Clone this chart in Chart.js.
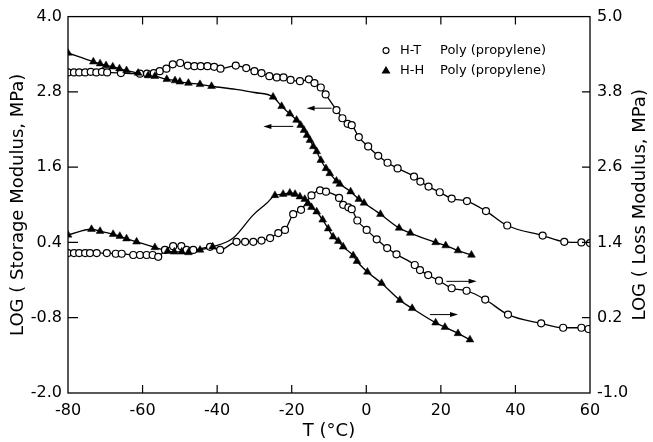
<!DOCTYPE html>
<html>
<head>
<meta charset="utf-8">
<script src="https://cdn.jsdelivr.net/npm/chart.js@4/dist/chart.umd.min.js"></script>
<style>
  html,body{margin:0;padding:0;background:#fff;}
</style>
</head>
<body>
<canvas id="chart" width="653" height="442"></canvas>
<script>
// Achsen-Ticks
const xTickVals = [-80,-60,-40,-20,0,20,40,60];
const storageTicks = [-2.0,-0.8,0.4,1.6,2.8,4.0];
const lossTicks = [-1.0,0.2,1.4,2.6,3.8,5.0];

// H-T Poly(propylene), Speichermodul (linke Achse)
const htStorageT = [-80,-78.4,-77,-75.4,-73.9,-72.4,-70.9,-69.5,-65.8,-60.7,-58.8,-57,-55.4,-53.6,-51.9,-49.9,-47.9,-46.1,-44.4,-42.6,-40.8,-39.1,-35,-32.2,-30,-28.1,-26,-24,-22.2,-20.3,-17.8,-15.4,-13.9,-12.2,-10.9,-8,-6.4,-5,-3.9,-2,0.5,3.2,5.7,8.4,12.8,14.5,16.7,19.7,22.9,27,32.1,37.8,47.3,53.1,57.7,60];
const htStorageLog = [3.11,3.11,3.11,3.11,3.12,3.11,3.12,3.11,3.10,3.09,3.09,3.10,3.13,3.17,3.24,3.26,3.22,3.21,3.21,3.21,3.20,3.17,3.22,3.18,3.13,3.10,3.05,3.03,3.03,2.99,2.97,3.00,2.94,2.87,2.76,2.51,2.38,2.29,2.27,2.08,1.93,1.78,1.67,1.58,1.45,1.37,1.29,1.20,1.10,1.06,0.90,0.67,0.51,0.41,0.40,0.39];

// H-H Poly(propylene), Speichermodul (linke Achse)
const hhStorageT = [-80,-73.2,-71.4,-69.8,-68,-66.2,-64.3,-61.2,-58.5,-56.7,-53.5,-51.3,-50,-47.7,-44.6,-41.5,-25,-22.7,-20.5,-18.7,-17.6,-16.7,-15.9,-15.1,-14.2,-13.3,-12.2,-10.8,-9.8,-8,-7.1,-4.2,-2,-0.6,3.8,8.8,11.8,18.6,21.3,24.6,28.2];
const hhStorageLog = [3.42,3.28,3.25,3.22,3.20,3.17,3.14,3.10,3.06,3.05,3.00,2.98,2.96,2.94,2.92,2.89,2.72,2.57,2.45,2.35,2.27,2.19,2.11,2.03,1.93,1.85,1.71,1.58,1.50,1.38,1.33,1.21,1.09,1.03,0.85,0.63,0.55,0.40,0.35,0.27,0.20];
// Kurve ohne Symbole
const hhStorageCurveT = [-35,-30];
const hhStorageCurveLog = [2.84,2.79];

// H-T Poly(propylene), Verlustmodul (rechte Achse)
const htLossT = [-80,-78.4,-77,-75.4,-74.1,-72.3,-69.6,-67.2,-65.6,-62.5,-60.7,-58.9,-57.3,-55.8,-54,-51.8,-49.6,-48.2,-46.4,-41.9,-39.2,-34.8,-32.5,-30.3,-28.1,-25.8,-23.6,-21.8,-19.6,-17.5,-14.7,-12.4,-10.8,-7.3,-6.2,-4.8,-3.9,-2.4,0.1,2.8,5.6,8.1,13,14.4,16.6,19.5,22.9,26.9,31.9,38,46.9,52.8,57.7,59.6];
const htLossLog = [1.23,1.23,1.23,1.23,1.23,1.23,1.23,1.22,1.22,1.20,1.20,1.20,1.20,1.17,1.28,1.34,1.34,1.28,1.28,1.33,1.28,1.41,1.41,1.41,1.43,1.47,1.55,1.60,1.85,1.92,2.15,2.23,2.21,2.11,2.00,1.96,1.93,1.75,1.60,1.45,1.31,1.21,1.04,0.96,0.88,0.79,0.67,0.63,0.49,0.25,0.11,0.04,0.04,0.02];

// H-H Poly(propylene), Verlustmodul (rechte Achse)
const hhLossT = [-80,-73.7,-71.4,-67.9,-66.1,-64.3,-61.6,-56.7,-53.3,-51.5,-49.5,-47.7,-44.6,-41.2,-24.5,-22.3,-20.5,-19.1,-17.8,-16.5,-15.6,-14.7,-13.3,-11.7,-10.2,-8.9,-7.5,-6.2,-3.5,-2.5,0.3,4.1,9,12.3,18.6,21.1,24.6,27.8];
const hhLossLog = [1.52,1.61,1.58,1.53,1.50,1.46,1.41,1.32,1.26,1.25,1.25,1.24,1.28,1.33,2.15,2.17,2.19,2.17,2.13,2.09,2.02,1.96,1.89,1.76,1.62,1.49,1.42,1.33,1.19,1.10,0.93,0.75,0.48,0.35,0.12,0.05,-0.05,-0.15];
const hhLossCurveT = [-35.7,-30.3,-26.8];
const hhLossCurveLog = [1.47,1.84,2.02];

// Pfeile (Zuordnung Kurve -> Achse)
const arrowFromT = [-9.3,-19.6,21.5,17.1];
const arrowToT = [-16,-27.6,29.6,24.6];
const arrowLog = [2.54,2.25,0.78,0.25];
const arrowAxis = ["y","y","y1","y1"];

const legendLabels = [["H-T","Poly (propylene)"],["H-H","Poly (propylene)"]];
const rightTitle = "LOG ( Loss Modulus, MPa)";

// Hilfsfunktionen
const pts = (xs,ys)=>xs.map((x,i)=>({x, y:ys[i]}));
const merge = (a,b)=>a.concat(b).sort((p,q)=>p.x-q.x);
const fmt1 = v=>Number(v).toFixed(1);
const FONT = "'DejaVu Sans', sans-serif";

const lineBase = {borderColor:"#000",borderWidth:1.3,cubicInterpolationMode:"monotone",fill:false};

// --- Rahmen, Ticks nach innen, Pfeile, Legende ---
const extras = {
  id:"extras",
  afterDatasetsDraw(chart){
    const {ctx, chartArea:a, scales} = chart;
    ctx.save();
    ctx.strokeStyle = "#000"; ctx.fillStyle = "#000";
    ctx.lineWidth = 1.3;
    ctx.strokeRect(a.left, a.top, a.right-a.left, a.bottom-a.top);

    ctx.lineWidth = 1.2;
    ctx.beginPath();
    xTickVals.forEach(v=>{
      const px = scales.x.getPixelForValue(v);
      if(px<=a.left+1 || px>=a.right-1) return;
      ctx.moveTo(px,a.bottom); ctx.lineTo(px,a.bottom-8);
      ctx.moveTo(px,a.top); ctx.lineTo(px,a.top+8);
    });
    storageTicks.forEach(v=>{
      const py = scales.y.getPixelForValue(v);
      if(py<=a.top+1 || py>=a.bottom-1) return;
      ctx.moveTo(a.left,py); ctx.lineTo(a.left+10,py);
    });
    lossTicks.forEach(v=>{
      const py = scales.y1.getPixelForValue(v);
      if(py<=a.top+1 || py>=a.bottom-1) return;
      ctx.moveTo(a.right,py); ctx.lineTo(a.right-8,py);
    });
    ctx.stroke();

    // Pfeile
    ctx.lineWidth = 1;
    arrowFromT.forEach((t,i)=>{
      const ys = scales[arrowAxis[i]];
      const x1 = scales.x.getPixelForValue(t), x2 = scales.x.getPixelForValue(arrowToT[i]);
      const yy = ys.getPixelForValue(arrowLog[i]);
      const dir = Math.sign(x2-x1);
      ctx.beginPath(); ctx.moveTo(x1,yy); ctx.lineTo(x2-dir*5,yy); ctx.stroke();
      ctx.beginPath(); ctx.moveTo(x2,yy); ctx.lineTo(x2-dir*8,yy-2.5); ctx.lineTo(x2-dir*8,yy+2.5); ctx.closePath(); ctx.fill();
    });

    // Legende
    ctx.font = `13px ${FONT}`;
    ctx.textBaseline = "middle"; ctx.textAlign = "left";
    legendLabels.forEach((lab,i)=>{
      const yy = a.top + 34 + i*20;
      const mx = a.right - 204;
      if(i===0){
        ctx.lineWidth = 1.1; ctx.fillStyle = "#fff";
        ctx.beginPath(); ctx.arc(mx,yy,3,0,Math.PI*2); ctx.fill(); ctx.stroke();
        ctx.fillStyle = "#000";
      } else {
        ctx.beginPath(); ctx.moveTo(mx,yy-4.5); ctx.lineTo(mx+4.5,yy+3); ctx.lineTo(mx-4.5,yy+3); ctx.closePath(); ctx.fill();
      }
      ctx.fillText(lab[0], a.right-190, yy);
      ctx.fillText(lab[1], a.right-150, yy);
    });

    // rechter Achsentitel (von unten nach oben)
    ctx.font = `18px ${FONT}`;
    ctx.textAlign = "center";
    ctx.translate(640,(a.top+a.bottom)/2);
    ctx.rotate(-Math.PI/2);
    ctx.fillText(rightTitle,0,0);
    ctx.restore();
  }
};

Chart.defaults.color = "#000";
Chart.defaults.font.family = FONT;

const chart = new Chart(document.getElementById("chart"),{
  type:"scatter",
  data:{
    datasets:[
      {...lineBase,label:"H-T storage",data:pts(htStorageT,htStorageLog),yAxisID:"y",showLine:true,
        pointStyle:"circle",pointRadius:3.5,pointBorderWidth:1.2,pointBackgroundColor:"#fff",pointBorderColor:"#000",order:2},
      {...lineBase,label:"H-H storage line",data:merge(pts(hhStorageT,hhStorageLog),pts(hhStorageCurveT,hhStorageCurveLog)),yAxisID:"y",showLine:true,pointRadius:0,order:3},
      {label:"H-H storage",data:pts(hhStorageT,hhStorageLog),yAxisID:"y",showLine:false,
        pointStyle:"triangle",pointRadius:4.5,pointBorderWidth:0.5,pointBackgroundColor:"#000",pointBorderColor:"#000",order:1},
      {...lineBase,label:"H-T loss",data:pts(htLossT,htLossLog),yAxisID:"y1",showLine:true,
        pointStyle:"circle",pointRadius:3.5,pointBorderWidth:1.2,pointBackgroundColor:"#fff",pointBorderColor:"#000",order:2},
      {...lineBase,label:"H-H loss line",data:merge(pts(hhLossT,hhLossLog),pts(hhLossCurveT,hhLossCurveLog)),yAxisID:"y1",showLine:true,pointRadius:0,order:3},
      {label:"H-H loss",data:pts(hhLossT,hhLossLog),yAxisID:"y1",showLine:false,
        pointStyle:"triangle",pointRadius:4.5,pointBorderWidth:0.5,pointBackgroundColor:"#000",pointBorderColor:"#000",order:1}
    ]
  },
  options:{
    responsive:false,
    animation:false,
    layout:{padding:{top:16,left:0,right:0,bottom:0}},
    plugins:{legend:{display:false},tooltip:{enabled:false}},
    scales:{
      x:{
        type:"linear",min:-80,max:60,
        afterBuildTicks:s=>{s.ticks = xTickVals.map(v=>({value:v}));},
        afterFit:s=>{s.height = 49;},
        grid:{display:false,drawTicks:false},
        border:{display:false},
        ticks:{padding:8,font:{size:16},callback:v=>String(v)},
        title:{display:true,text:"T (°C)",font:{size:18},padding:{top:0,bottom:0}}
      },
      y:{
        type:"linear",position:"left",min:-2,max:4,
        afterBuildTicks:s=>{s.ticks = storageTicks.map(v=>({value:v}));},
        afterFit:s=>{s.width = 68;},
        grid:{display:false,drawTicks:false},
        border:{display:false},
        ticks:{padding:6,font:{size:16},callback:fmt1},
        title:{display:true,text:"LOG ( Storage Modulus, MPa)",font:{size:18},padding:{top:8,bottom:0}}
      },
      y1:{
        type:"linear",position:"right",min:-1,max:5,
        afterBuildTicks:s=>{s.ticks = lossTicks.map(v=>({value:v}));},
        afterFit:s=>{s.width = 63;},
        grid:{display:false,drawTicks:false},
        border:{display:false},
        ticks:{padding:7,font:{size:16},callback:fmt1}
      }
    }
  },
  plugins:[extras]
});
</script>
</body>
</html>
